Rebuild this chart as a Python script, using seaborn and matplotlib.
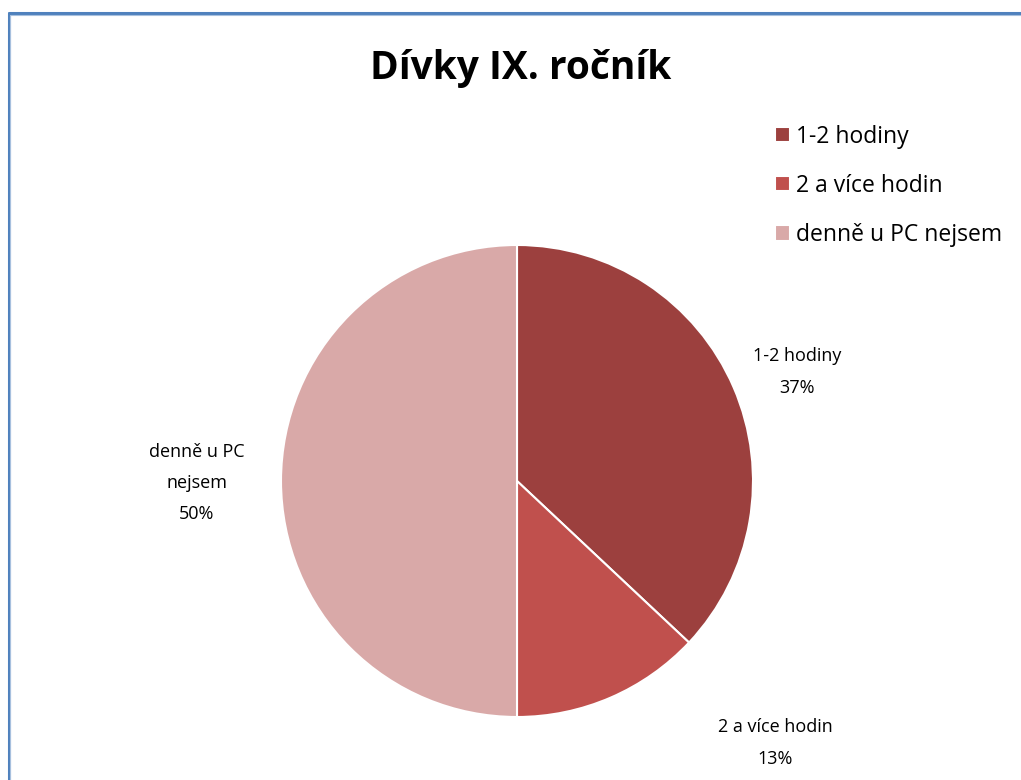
import matplotlib.pyplot as plt
import seaborn as sns
from matplotlib.lines import Line2D

TITLE = "Dívky IX. ročník"
CATEGORIES = ["1-2 hodiny", "2 a více hodin", "denně u PC nejsem"]
SHARES = [37, 13, 50]
SLICE_LABELS = ["1-2 hodiny\n37%", "2 a více hodin\n13%", "denně u PC\nnejsem\n50%"]
COLORS = ["#9C403E", "#C0504D", "#D9A9A8"]

sns.set_theme(style="white")
plt.rcParams["font.family"] = ["Open Sans", "DejaVu Sans"]
plt.rcParams["text.color"] = "black"

W, H = 1021, 780
fig = plt.figure(figsize=(W / 100, H / 100), dpi=100)

# pie centred at (517, 481) px, radius 236 px
cx, cy, r = 517, 481, 236
ax = fig.add_axes([(cx - r) / W, (H - cy - r) / H, 2 * r / W, 2 * r / H])
wedges, _ = ax.pie(
    SHARES,
    colors=COLORS,
    startangle=90,
    counterclock=False,
    wedgeprops={"edgecolor": "white", "linewidth": 1.5},
)
ax.set_xlim(-1, 1)
ax.set_ylim(-1, 1)
ax.set_aspect("equal")

label_pos = [(797, 372), (775, 743), (197, 483)]
for text, (px, py) in zip(SLICE_LABELS, label_pos):
    fig.text(px / W, 1 - py / H, text, ha="center", va="center",
             fontsize=13, linespacing=1.95, color="black")

fig.text(521 / W, 1 - 68 / H, TITLE, ha="center", va="center",
         fontsize=28, fontweight="bold", color="black")

leg = fig.legend(
    wedges, CATEGORIES,
    loc="upper left", bbox_to_anchor=(754 / W, 1 - 104 / H),
    frameon=False, fontsize=16.5, handlelength=0.65, handleheight=0.65,
    handletextpad=0.3, labelspacing=1.1,
)
for t in leg.get_texts():
    t.set_color("black")

# chart frame (only top and left edges visible)
fig.add_artist(Line2D([8.5 / W, 8.5 / W], [0, 1 - 13 / H], color="#4F81BD", lw=2.2))
fig.add_artist(Line2D([8.5 / W, 1], [1 - 13 / H, 1 - 13 / H], color="#4F81BD", lw=2.2))
fig.add_artist(Line2D([10 / W, 10 / W], [0, 1 - 15 / H], color="#A7C0DE", lw=0.8))
fig.add_artist(Line2D([10 / W, 1], [1 - 15 / H, 1 - 15 / H], color="#A7C0DE", lw=0.8))

fig.savefig("out.png", dpi=100)
